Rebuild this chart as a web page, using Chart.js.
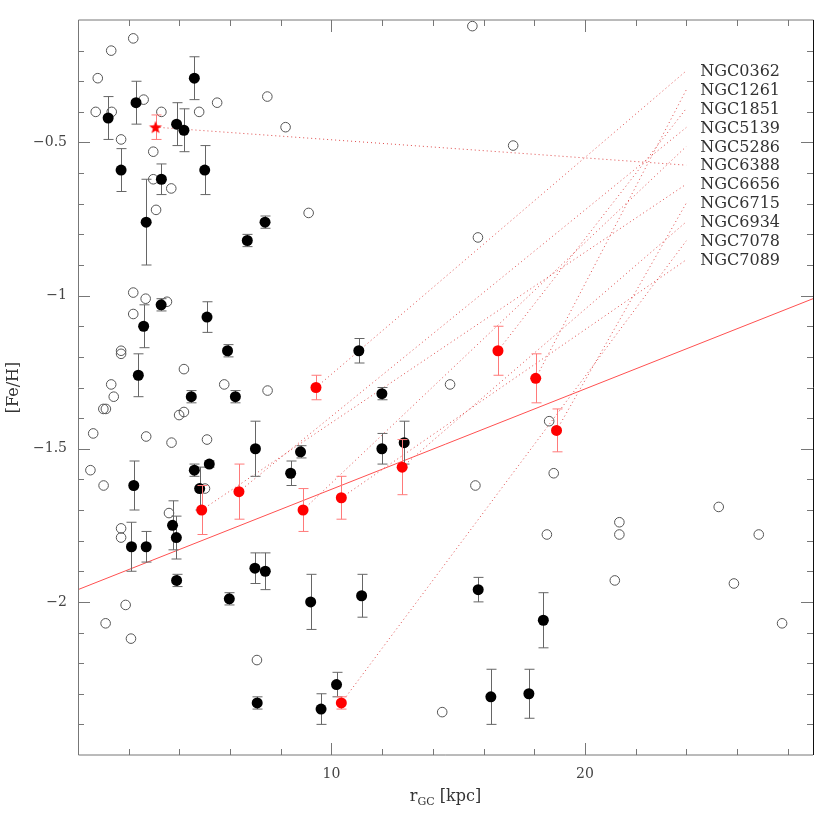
<!DOCTYPE html>
<html>
<head>
    <title>[Fe/H] vs r_GC</title>
    <script src="https://cdn.jsdelivr.net/npm/chart.js"></script>
    <style>
        body { margin: 0; background: #fff; }
    </style>
</head>
<body>
    <canvas id="feh-chart" width="831" height="831"></canvas>

    <script>
        // Open circles (no error bars)
        const openX = [0.78, 1.31, 2.18, 0.70, 1.33, 2.59, 3.29, 1.70, 2.97, 2.97, 3.68, 3.08, 4.78, 5.49, 7.47, 8.19, 9.10,
            15.56, 17.17, 15.78, 2.18, 2.67, 3.51, 2.18, 1.70, 1.70, 4.18, 1.31, 1.41, 5.77, 7.48, 1.00, 1.10, 3.99, 4.18,
            0.60, 2.69, 3.69, 5.09, 0.49, 1.01, 5.01, 3.59, 1.70, 1.70, 1.88, 1.09, 2.09, 7.06, 14.68, 15.68, 14.37,
            18.59, 18.77, 25.28, 21.36, 21.36, 18.50, 26.86, 21.18, 25.88, 27.78];
        const openY = [-0.29, -0.20, -0.16, -0.40, -0.40, -0.36, -0.40, -0.49, -0.53, -0.62, -0.65, -0.72, -0.40, -0.37, -0.35, -0.45, -0.73,
            -0.12, -0.51, -0.81, -0.99, -1.01, -1.02, -1.06, -1.18, -1.19, -1.24, -1.29, -1.33, -1.29, -1.31, -1.37, -1.37, -1.39, -1.38,
            -1.45, -1.46, -1.48, -1.47, -1.57, -1.62, -1.63, -1.71, -1.76, -1.79, -2.01, -2.07, -2.12, -2.19, -1.29, -1.62, -2.36,
            -1.41, -1.58, -1.69, -1.74, -1.78, -1.78, -1.78, -1.93, -1.94, -2.07];

        // Filled black circles with error bars
        const fillX = [1.19, 2.29, 4.59, 3.89, 4.18, 1.70, 5.00, 3.29, 2.69, 6.68, 7.38, 3.28, 5.09, 2.59, 5.90, 2.38,
            4.47, 6.21, 7.00, 2.20, 4.59, 5.18, 4.80, 3.73, 3.88, 2.11, 2.69, 3.89, 5.97, 6.98, 7.39, 7.07,
            11.08, 11.99, 8.78, 8.39, 11.99, 12.87, 9.18, 11.19, 15.79, 10.20, 9.59, 16.29, 17.79, 18.36];
        const fillY = [-0.42, -0.37, -0.29, -0.44, -0.46, -0.59, -0.59, -0.62, -0.76, -0.82, -0.76, -1.03, -1.07, -1.10, -1.18, -1.26,
            -1.33, -1.33, -1.50, -1.62, -1.57, -1.55, -1.63, -1.75, -1.79, -1.82, -1.82, -1.93, -1.99, -1.89, -1.90, -2.33,
            -1.18, -1.32, -1.51, -1.58, -1.50, -1.48, -2.00, -1.98, -1.96, -2.27, -2.35, -2.31, -2.30, -2.06];
        const fillErr = [0.07, 0.07, 0.07, 0.07, 0.07, 0.07, 0.08, 0.05, 0.14, 0.02, 0.02, 0.02, 0.05, 0.07, 0.02, 0.07,
            0.02, 0.02, 0.09, 0.08, 0.02, 0.01, 0.07, 0.08, 0.07, 0.08, 0.05, 0.02, 0.02, 0.05, 0.06, 0.02,
            0.04, 0.02, 0.02, 0.04, 0.05, 0.07, 0.09, 0.07, 0.04, 0.04, 0.05, 0.09, 0.08, 0.09];

        // Named clusters (red), in label order
        const clusterNames = ['NGC0362', 'NGC1261', 'NGC1851', 'NGC5139', 'NGC5286', 'NGC6388',
            'NGC6656', 'NGC6715', 'NGC6934', 'NGC7078', 'NGC7089'];
        const clusterX = [9.39, 18.06, 16.57, 6.35, 8.88, 3.06, 4.88, 18.88, 12.79, 10.39, 10.39];
        const clusterY = [-1.30, -1.27, -1.18, -1.64, -1.70, -0.45, -1.70, -1.44, -1.56, -2.33, -1.66];
        const clusterErr = [0.04, 0.08, 0.08, 0.09, 0.07, 0.04, 0.08, 0.07, 0.09, 0.02, 0.07];
        const labelX = 24;
        const labelY = [-0.266, -0.328, -0.389, -0.451, -0.513, -0.574, -0.636, -0.698, -0.759, -0.821, -0.883];

        // Fit line
        const fitX = [0, 29];
        const fitY = [-1.96, -1.01];

        const xTicks = [10, 20];
        const yTicks = [-2, -1.5, -1, -0.5];

        // filled star marker for NGC6388
        const star = document.createElement('canvas');
        star.width = 16; star.height = 16;
        (function () {
            const c = star.getContext('2d');
            c.fillStyle = '#ff0000';
            c.beginPath();
            for (let i = 0; i < 10; i++) {
                const r = i % 2 === 0 ? 6.8 : 2.8;
                const a = -Math.PI / 2 + i * Math.PI / 5;
                const px = 8 + r * Math.cos(a), py = 8.6 + r * Math.sin(a);
                if (i === 0) c.moveTo(px, py); else c.lineTo(px, py);
            }
            c.closePath();
            c.fill();
        })();

        const font = '"DejaVu Serif", "Liberation Serif", serif';

        // error bars, drawn just before each dataset's points
        const errorBars = {
            id: 'errorBars',
            beforeDatasetDraw(chart, args) {
                const ds = chart.data.datasets[args.index];
                if (!ds.err) return;
                const xs = chart.scales.x, ys = chart.scales.y;
                const ctx = chart.ctx;
                ctx.save();
                ctx.strokeStyle = ds.errColor;
                ctx.lineWidth = 1;
                ds.data.forEach((p, i) => {
                    const px = Math.round(xs.getPixelForValue(p.x)) + 0.5;
                    const y1 = ys.getPixelForValue(p.y - ds.err[i]);
                    const y2 = ys.getPixelForValue(p.y + ds.err[i]);
                    ctx.beginPath();
                    ctx.moveTo(px, y1); ctx.lineTo(px, y2);
                    ctx.moveTo(px - 5, y1); ctx.lineTo(px + 5, y1);
                    ctx.moveTo(px - 5, y2); ctx.lineTo(px + 5, y2);
                    ctx.stroke();
                });
                ctx.restore();
            }
        };

        // frame, inward ticks, titles, cluster names
        const frame = {
            id: 'frame',
            afterDraw(chart) {
                const ctx = chart.ctx;
                const a = chart.chartArea;
                const xs = chart.scales.x, ys = chart.scales.y;
                ctx.save();
                ctx.lineWidth = 1;
                ctx.strokeStyle = '#777';
                ctx.beginPath();
                for (let v = 2; v < 29; v += 2) {
                    const px = Math.round(xs.getPixelForValue(v)) + 0.5;
                    const len = v % 10 === 0 ? 12 : 6;
                    ctx.moveTo(px, a.bottom); ctx.lineTo(px, a.bottom - len);
                    ctx.moveTo(px, a.top); ctx.lineTo(px, a.top + len);
                }
                for (let k = -24; k <= -2; k++) {
                    const v = k / 10;
                    const py = Math.round(ys.getPixelForValue(v)) + 0.5;
                    const len = k % 5 === 0 ? 12 : 6;
                    ctx.moveTo(a.left, py); ctx.lineTo(a.left + len, py);
                    ctx.moveTo(a.right, py); ctx.lineTo(a.right - len, py);
                }
                ctx.stroke();

                ctx.beginPath();
                ctx.moveTo(a.right + 0.5, a.top); ctx.lineTo(a.left + 0.5, a.top);
                ctx.lineTo(a.left + 0.5, a.bottom); ctx.lineTo(a.right, a.bottom);
                ctx.stroke();
                ctx.strokeStyle = '#111';
                ctx.beginPath();
                ctx.moveTo(a.right + 0.5, a.top); ctx.lineTo(a.right + 0.5, a.bottom);
                ctx.stroke();

                // cluster names
                ctx.fillStyle = '#333';
                ctx.font = '16px ' + font;
                ctx.textAlign = 'left';
                ctx.textBaseline = 'middle';
                clusterNames.forEach((n, i) => {
                    ctx.fillText(n, xs.getPixelForValue(labelX) + 14, ys.getPixelForValue(labelY[i]) + 1);
                });

                // y title
                ctx.save();
                ctx.translate(14, (a.top + a.bottom) / 2);
                ctx.rotate(-Math.PI / 2);
                ctx.textAlign = 'center';
                ctx.fillText('[Fe/H]', 0, 0);
                ctx.restore();

                // x title with subscript
                const cx = (a.left + a.right) / 2;
                const ty = 797;
                ctx.font = '16px ' + font;
                const w1 = ctx.measureText('r').width;
                const w3 = ctx.measureText(' [kpc]').width;
                ctx.font = '11px ' + font;
                const w2 = ctx.measureText('GC').width;
                let x0 = cx - (w1 + w2 + w3) / 2;
                ctx.textAlign = 'left';
                ctx.font = '16px ' + font;
                ctx.fillText('r', x0, ty);
                ctx.font = '11px ' + font;
                ctx.fillText('GC', x0 + w1, ty + 5);
                ctx.font = '16px ' + font;
                ctx.fillText(' [kpc]', x0 + w1 + w2, ty);
                ctx.restore();
            }
        };

        const lineSets = clusterNames.map((n, i) => ({
            type: 'scatter',
            showLine: true,
            data: [{ x: clusterX[i], y: clusterY[i] }, { x: labelX, y: labelY[i] }],
            borderColor: 'rgba(215, 30, 30, 0.8)',
            borderWidth: 1,
            borderDash: [1, 3],
            pointRadius: 0,
            order: 5
        }));

        const ctx = document.getElementById('feh-chart').getContext('2d');
        new Chart(ctx, {
            type: 'scatter',
            data: {
                datasets: [
                    ...lineSets,
                    {
                        showLine: true,
                        data: fitX.map((x, i) => ({ x: x, y: fitY[i] })),
                        borderColor: '#ff5050',
                        borderWidth: 1,
                        pointRadius: 0,
                        order: 4
                    },
                    {
                        data: openX.map((x, i) => ({ x: x, y: openY[i] })),
                        pointRadius: 4.8,
                        borderColor: '#555',
                        borderWidth: 1,
                        backgroundColor: 'transparent',
                        order: 3
                    },
                    {
                        data: fillX.map((x, i) => ({ x: x, y: fillY[i] })),
                        err: fillErr,
                        errColor: '#666',
                        pointRadius: 5.5,
                        borderWidth: 0,
                        backgroundColor: '#000',
                        order: 2
                    },
                    {
                        data: clusterX.map((x, i) => ({ x: x, y: clusterY[i] })),
                        err: clusterErr,
                        errColor: '#ff7a7a',
                        pointRadius: 5.5,
                        pointStyle: clusterNames.map(n => n === 'NGC6388' ? star : 'circle'),
                        borderWidth: 0,
                        backgroundColor: '#ff0000',
                        order: 1
                    }
                ]
            },
            options: {
                responsive: false,
                animation: false,
                layout: { padding: { left: 0, top: 20, right: 18, bottom: 0 } },
                plugins: { legend: { display: false }, tooltip: { enabled: false } },
                scales: {
                    x: {
                        type: 'linear',
                        min: 0,
                        max: 29,
                        grid: { display: false, drawTicks: false },
                        border: { display: false },
                        afterBuildTicks: s => { s.ticks = xTicks.map(v => ({ value: v })); },
                        afterFit: s => { s.height = 76; },
                        ticks: { padding: 11, color: '#444', font: { family: font, size: 14 }, maxRotation: 0 }
                    },
                    y: {
                        type: 'linear',
                        min: -2.5,
                        max: -0.1,
                        grid: { display: false, drawTicks: false },
                        border: { display: false },
                        afterBuildTicks: s => { s.ticks = yTicks.map(v => ({ value: v })); },
                        afterFit: s => { s.width = 78; },
                        ticks: {
                            padding: 11,
                            color: '#444',
                            font: { family: font, size: 14 },
                            callback: v => String(v).replace('-', '\u2212')
                        }
                    }
                }
            },
            plugins: [errorBars, frame]
        });
    </script>
</body>
</html>
